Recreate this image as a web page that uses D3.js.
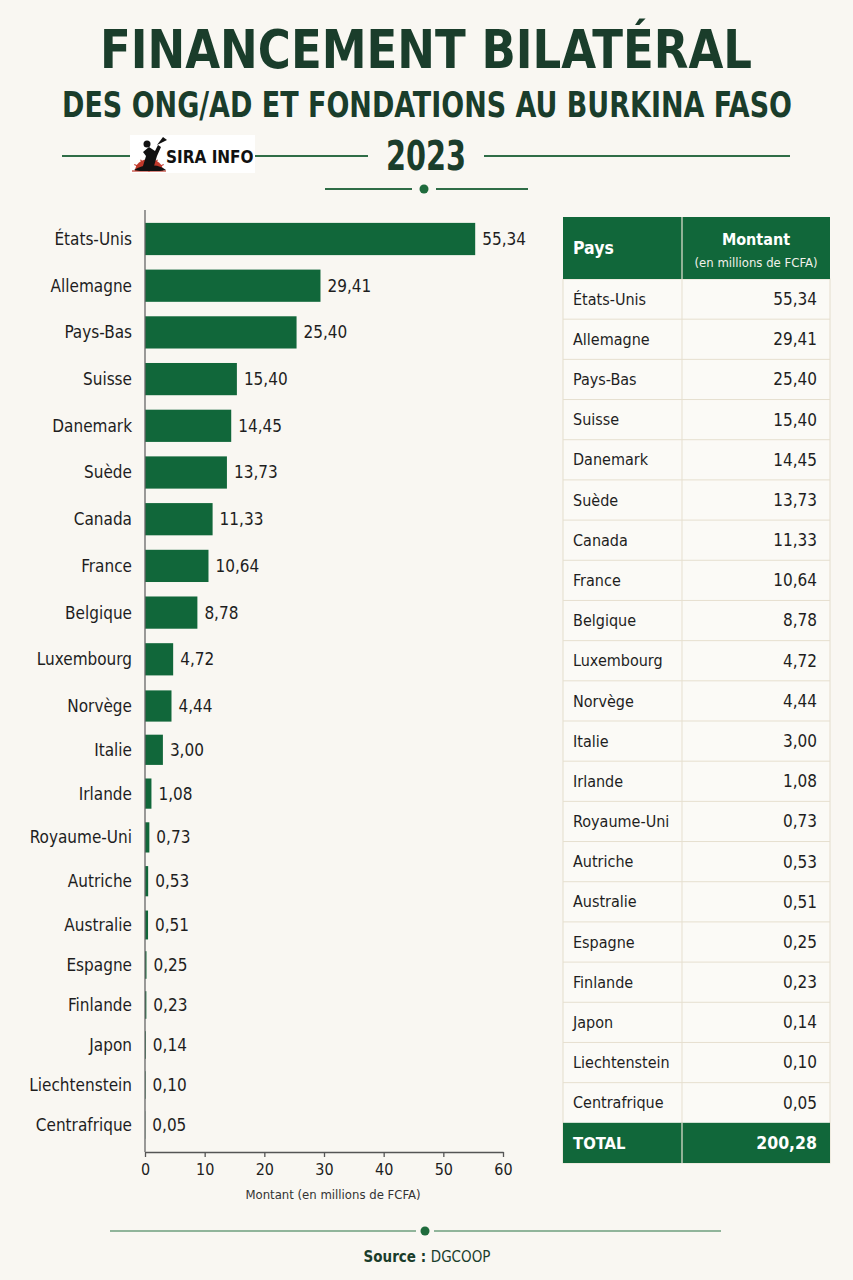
<!DOCTYPE html>
<html>
<head>
<meta charset="utf-8">
<script src="https://cdn.jsdelivr.net/npm/d3@7"></script>
<style>
  html, body { margin: 0; padding: 0; background: #f9f7f2; }
  svg { display: block; font-family: "Liberation Sans Narrow", "DejaVu Sans Condensed", "Noto Sans", sans-serif; font-stretch: condensed; }
</style>
</head>
<body>
<div id="chart"></div>
<script>
// données : financement bilatéral 2023 (millions de FCFA)
const pays = ["États-Unis", "Allemagne", "Pays-Bas", "Suisse", "Danemark", "Suède", "Canada", "France",
  "Belgique", "Luxembourg", "Norvège", "Italie", "Irlande", "Royaume-Uni", "Autriche", "Australie",
  "Espagne", "Finlande", "Japon", "Liechtenstein", "Centrafrique"]
const montants = [55.34, 29.41, 25.40, 15.40, 14.45, 13.73, 11.33, 10.64, 8.78, 4.72, 4.44, 3.00,
  1.08, 0.73, 0.53, 0.51, 0.25, 0.23, 0.14, 0.10, 0.05]
const xTicks = [0, 10, 20, 30, 40, 50, 60]
const total = 200.28

const W = 853, H = 1280
const green = "#11673a", dark = "#1a3d2b", ink = "#1e1e1e"
const fmt = v => d3.format(".2f")(v).replace(".", ",")

let svg = d3.select("#chart").append("svg")
  .attr("width", W).attr("height", H)

svg.append("rect").attr("width", W).attr("height", H).attr("fill", "#f9f7f2")

// ---- titre
svg.append("text").attr("x", 426).attr("y", 68)
  .attr("text-anchor", "middle").attr("fill", dark)
  .attr("font-size", 54).attr("font-weight", 700)
  .attr("textLength", 652).attr("lengthAdjust", "spacingAndGlyphs")
  .text("FINANCEMENT BILATÉRAL")
svg.append("g").attr("transform", "translate(427,117) scale(1,1.12)")
  .append("text")
  .attr("text-anchor", "middle").attr("fill", dark)
  .attr("font-size", 32).attr("font-weight", 700)
  .attr("textLength", 730).attr("lengthAdjust", "spacingAndGlyphs")
  .text("DES ONG/AD ET FONDATIONS AU BURKINA FASO")
svg.append("text").attr("x", 426).attr("y", 170)
  .attr("text-anchor", "middle").attr("fill", dark)
  .attr("font-size", 40).attr("font-weight", 700)
  .attr("textLength", 80).attr("lengthAdjust", "spacingAndGlyphs")
  .text("2023")

// lignes décoratives
const orn = svg.append("g").attr("stroke", "#2f6d47").attr("stroke-width", 2)
orn.append("line").attr("x1", 62).attr("x2", 368).attr("y1", 156).attr("y2", 156)
orn.append("line").attr("x1", 484).attr("x2", 790).attr("y1", 156).attr("y2", 156)
orn.append("line").attr("x1", 325).attr("x2", 412).attr("y1", 189).attr("y2", 189)
orn.append("line").attr("x1", 436).attr("x2", 528).attr("y1", 189).attr("y2", 189)
svg.append("circle").attr("cx", 424).attr("cy", 189).attr("r", 4.5).attr("fill", "#1f6b3c")

// logo SIRA INFO
const logo = svg.append("g").attr("transform", "translate(130,135)")
logo.append("rect").attr("width", 125).attr("height", 38).attr("fill", "#ffffff")
logo.append("path").attr("d", "M5,36 A14,12 0 0 1 33,36 Z").attr("fill", "#c0392b")
logo.selectAll("line.ray")
  .data(d3.range(7))
  .enter()
  .append("line")
  .attr("class", "ray")
  .attr("x1", 19).attr("y1", 36)
  .attr("x2", d => 19 + 17 * Math.cos(Math.PI * (1 - d / 6)))
  .attr("y2", d => 36 - 13 * Math.sin(Math.PI * (1 - d / 6)))
  .attr("stroke", "#c0392b").attr("stroke-width", 1.2)
logo.append("path").attr("d", "M4,35 Q14,29 20,31 Q28,29 36,35 L30,36 L10,36 Z").attr("fill", "#111")
logo.append("path").attr("d", "M13,31 L16,21 L13,17 L19,12 L25,16 L28,10 L31,12 L27,21 L24,31 Z").attr("fill", "#111")
logo.append("circle").attr("cx", 17).attr("cy", 9).attr("r", 3.5).attr("fill", "#111")
logo.append("path").attr("d", "M27,10 L33,2 L37,5 Z").attr("fill", "#111")
logo.append("text").attr("x", 36).attr("y", 28)
  .attr("font-size", 17).attr("font-weight", 700).attr("fill", "#111")
  .text("SIRA INFO")

// ---- barres
let x = d3.scaleLinear().domain([0, 60]).range([145, 503])
// position des rangées (les lignes se resserrent vers le bas)
let yRow = d3.scaleLinear().domain([0, 10, 15, 20]).range([239, 706, 925, 1125])
const idx = pays.map((d, i) => i)
const rowStep = i => yRow(i + 0.5) - yRow(i - 0.5)
const barH = i => rowStep(i) * 0.69

svg.selectAll("rect.bar")
  .data(idx)
  .enter()
  .append("rect")
  .attr("class", "bar")
  .attr("x", x(0))
  .attr("y", i => yRow(i) - barH(i) / 2)
  .attr("width", i => x(montants[i]) - x(0))
  .attr("height", i => barH(i))
  .attr("fill", green)

svg.selectAll("text.val")
  .data(idx)
  .enter()
  .append("text")
  .attr("class", "val")
  .attr("x", i => x(montants[i]) + 7)
  .attr("y", i => yRow(i))
  .attr("dy", "0.35em")
  .attr("font-size", 17).attr("fill", ink)
  .text(i => fmt(montants[i]))

svg.selectAll("text.cat")
  .data(idx)
  .enter()
  .append("text")
  .attr("class", "cat")
  .attr("x", 132)
  .attr("y", i => yRow(i))
  .attr("dy", "0.35em")
  .attr("text-anchor", "end")
  .attr("font-size", 17).attr("fill", ink)
  .text(i => pays[i])

// axe vertical
svg.append("line").attr("x1", x(0)).attr("x2", x(0)).attr("y1", 210).attr("y2", 1152)
  .attr("stroke", "#666").attr("stroke-width", 1.3)

// axe horizontal
let xAxis = d3.axisBottom(x).tickValues(xTicks).tickSize(5).tickSizeOuter(0)
let gx = svg.append("g").attr("transform", "translate(0,1152)").call(xAxis)
gx.attr("font-family", null)
gx.select(".domain").attr("stroke", "#555").attr("stroke-width", 1.3)
gx.selectAll(".tick line").attr("stroke", "#555").attr("stroke-width", 1.3)
gx.selectAll(".tick text").attr("font-size", 16).attr("fill", ink).attr("dy", "0.95em")

svg.append("text").attr("x", 333).attr("y", 1199)
  .attr("text-anchor", "middle").attr("font-size", 13).attr("fill", "#333")
  .text("Montant (en millions de FCFA)")

// ---- tableau
const tx0 = 563, tx1 = 682, tx2 = 830
let rowsY = d3.scaleBand().domain(pays.concat(["TOTAL"])).range([279, 1163])
const rh = rowsY.bandwidth()

let tbl = svg.append("g")
tbl.append("rect").attr("x", tx0).attr("y", 279).attr("width", tx2 - tx0).attr("height", 1163 - 279)
  .attr("fill", "#fbfaf6").attr("stroke", "#e4ddcc")

tbl.selectAll("line.row")
  .data(pays.slice(1))
  .enter()
  .append("line")
  .attr("class", "row")
  .attr("x1", tx0).attr("x2", tx2)
  .attr("y1", d => rowsY(d)).attr("y2", d => rowsY(d))
  .attr("stroke", "#e6dfcf").attr("stroke-width", 1)
tbl.append("line").attr("x1", tx1).attr("x2", tx1).attr("y1", 279).attr("y2", rowsY("TOTAL"))
  .attr("stroke", "#e6dfcf")

// en-tête
tbl.append("rect").attr("x", tx0).attr("y", 217).attr("width", tx2 - tx0).attr("height", 62).attr("fill", green)
tbl.append("line").attr("x1", tx1).attr("x2", tx1).attr("y1", 217).attr("y2", 279)
  .attr("stroke", "#e9e4d6").attr("stroke-width", 1.2)
tbl.append("text").attr("x", 573).attr("y", 248).attr("dy", "0.35em")
  .attr("font-size", 17.5).attr("font-weight", 700).attr("fill", "#fff").text("Pays")
tbl.append("text").attr("x", 756).attr("y", 239).attr("dy", "0.35em").attr("text-anchor", "middle")
  .attr("font-size", 16).attr("font-weight", 700).attr("fill", "#fff").text("Montant")
tbl.append("text").attr("x", 756).attr("y", 262).attr("dy", "0.35em").attr("text-anchor", "middle")
  .attr("font-size", 13).attr("fill", "#f1f1ea").text("(en millions de FCFA)")

tbl.selectAll("text.tp")
  .data(pays)
  .enter()
  .append("text")
  .attr("class", "tp")
  .attr("x", 573)
  .attr("y", d => rowsY(d) + rh / 2)
  .attr("dy", "0.35em")
  .attr("font-size", 16).attr("fill", ink)
  .text(d => d)

tbl.selectAll("text.tv")
  .data(pays)
  .enter()
  .append("text")
  .attr("class", "tv")
  .attr("x", 817)
  .attr("y", d => rowsY(d) + rh / 2)
  .attr("dy", "0.35em")
  .attr("text-anchor", "end")
  .attr("font-size", 17).attr("fill", ink)
  .text((d, i) => fmt(montants[i]))

// total
tbl.append("rect").attr("x", tx0).attr("y", rowsY("TOTAL")).attr("width", tx2 - tx0).attr("height", rh).attr("fill", green)
tbl.append("line").attr("x1", tx1).attr("x2", tx1).attr("y1", rowsY("TOTAL")).attr("y2", 1163)
  .attr("stroke", "#e9e4d6").attr("stroke-width", 1.2)
tbl.append("text").attr("x", 573).attr("y", rowsY("TOTAL") + rh / 2).attr("dy", "0.35em")
  .attr("font-size", 16.5).attr("font-weight", 700).attr("fill", "#fff").text("TOTAL")
tbl.append("text").attr("x", 817).attr("y", rowsY("TOTAL") + rh / 2).attr("dy", "0.35em").attr("text-anchor", "end")
  .attr("font-size", 17.5).attr("font-weight", 700).attr("fill", "#fff").text(fmt(total))

// ---- pied
const foot = svg.append("g").attr("stroke", "#6e9f7e").attr("stroke-width", 1.5)
foot.append("line").attr("x1", 110).attr("x2", 416).attr("y1", 1231).attr("y2", 1231)
foot.append("line").attr("x1", 434).attr("x2", 721).attr("y1", 1231).attr("y2", 1231)
svg.append("circle").attr("cx", 425).attr("cy", 1231).attr("r", 4.5).attr("fill", "#1f6b3c")

let src = svg.append("text").attr("x", 427).attr("y", 1262).attr("text-anchor", "middle")
  .attr("font-size", 15).attr("fill", dark)
src.append("tspan").attr("font-weight", 700).text("Source : ")
src.append("tspan").text("DGCOOP")
</script>
</body>
</html>
